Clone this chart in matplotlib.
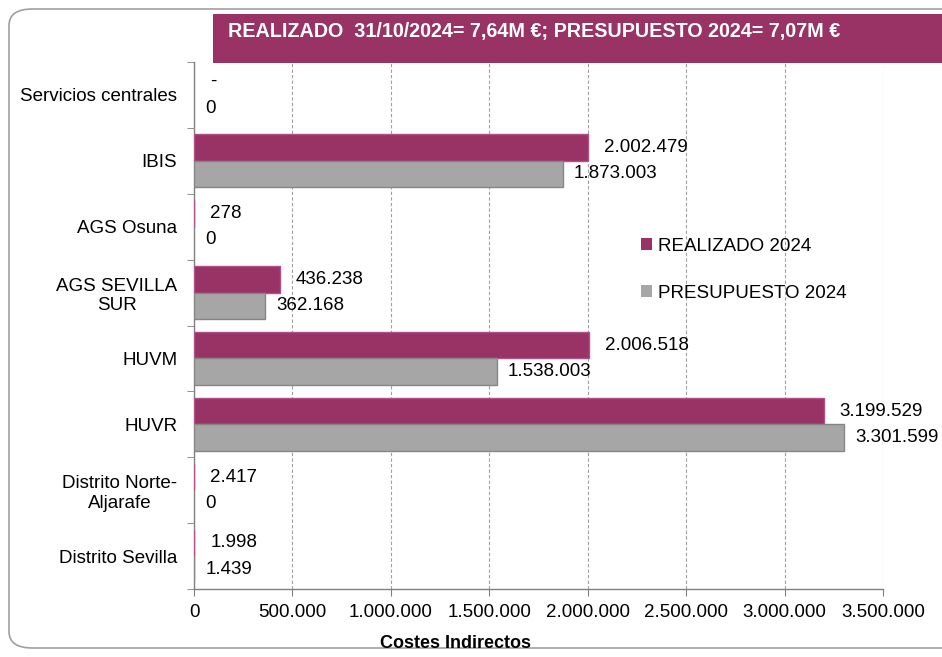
import matplotlib
matplotlib.use("Agg")
import matplotlib.pyplot as plt
from matplotlib.patches import FancyBboxPatch, Rectangle
from matplotlib.ticker import FuncFormatter, FixedLocator

plt.rcParams['font.family'] = ['Liberation Sans', 'DejaVu Sans']

categories = ['Servicios centrales', 'IBIS', 'AGS Osuna', 'AGS SEVILLA\nSUR', 'HUVM', 'HUVR',
              'Distrito Norte-\nAljarafe', 'Distrito Sevilla']
realizado = [0, 2002479, 278, 436238, 2006518, 3199529, 2417, 1998]
presupuesto = [0, 1873003, 0, 362168, 1538003, 3301599, 0, 1439]
x_ticks = [0, 500000, 1000000, 1500000, 2000000, 2500000, 3000000, 3500000]
title = 'REALIZADO  31/10/2024= 7,64M €; PRESUPUESTO 2024= 7,07M €'

maroon = '#993366'
grey = '#A6A6A6'


def miles(v, pos=None):
    return f'{v:,.0f}'.replace(',', '.')


fig = plt.figure(figsize=(9.42, 6.57), dpi=100)
ax = fig.add_axes([194 / 942, 1 - 589 / 657, 689 / 942, (589 - 62) / 657])

# rounded frame around the chart
frame = FancyBboxPatch((9 / 942, 9 / 657), 1.2, 1 - 18 / 657, boxstyle='round,pad=0,rounding_size=0.025',
                       transform=fig.transFigure, fc='none', ec='#A0A0A0', lw=1.2, zorder=0)
fig.patches.append(frame)

idx = list(range(len(categories)))
r_lw = [0 if v == 0 else 1.0 for v in realizado]
p_lw = [0 if v == 0 else 1.0 for v in presupuesto]
h = 0.4
br = ax.barh([i - h / 2 for i in idx], realizado, height=h, color=maroon, edgecolor='#B0508A',
             linewidth=r_lw, label='REALIZADO 2024', zorder=3)
bp = ax.barh([i + h / 2 for i in idx], presupuesto, height=h, color=grey, edgecolor='#868686',
             linewidth=p_lw, label='PRESUPUESTO 2024', zorder=3)

for i in idx:
    rv = realizado[i]
    ax.annotate('-' if rv == 0 else miles(rv), (rv, i - h / 2), xytext=(11.5, 0),
                textcoords='offset points', va='center', ha='left', fontsize=13.5)
    pv = presupuesto[i]
    ax.annotate(miles(pv), (pv, i + h / 2), xytext=(8, 0),
                textcoords='offset points', va='center', ha='left', fontsize=13.5)

ax.set_xlim(0, 3500000)
ax.set_ylim(len(categories) - 0.5, -0.5)
ax.set_xticks(x_ticks)
ax.xaxis.set_major_formatter(FuncFormatter(miles))
ax.set_yticks(idx)
ax.set_yticklabels(categories, multialignment='center')
ax.yaxis.set_minor_locator(FixedLocator([i - 0.5 for i in range(len(categories) + 1)]))
ax.tick_params(axis='y', which='major', length=0, pad=12, labelsize=13.5)
ax.tick_params(axis='y', which='minor', length=5, color='#808080', direction='out')
ax.tick_params(axis='x', length=5, color='#808080', pad=6, labelsize=13.5)

ax.grid(axis='x', linestyle=(0, (3, 2)), color='#A0A0A0', linewidth=0.8, zorder=0)
for s in ['top', 'right']:
    ax.spines[s].set_visible(False)
for s in ['left', 'bottom']:
    ax.spines[s].set_color('#808080')
    ax.spines[s].set_linewidth(1.0)

fig.text(456 / 942, 1 - 643 / 657, 'Costes Indirectos', ha='center', va='center',
         fontsize=13, fontweight='bold')

# title banner
fig.patches.append(Rectangle((213 / 942, 1 - 63 / 657), 0.8, 49 / 657, transform=fig.transFigure,
                             fc=maroon, ec='none', zorder=5))
fig.text(228 / 942, 1 - 32 / 657, title, ha='left', va='center', color='white', fontsize=14.2,
         fontweight='bold', family=['Liberation Sans Narrow', 'Liberation Sans'], zorder=6)

ax.legend(handles=[br, bp], loc='center left', bbox_to_anchor=(624 / 942, 1 - 270 / 657),
          bbox_transform=fig.transFigure, frameon=False, fontsize=13.5, handlelength=0.6,
          handleheight=0.6, handletextpad=0.3, labelspacing=1.6)

fig.savefig('out.png', dpi=100)
